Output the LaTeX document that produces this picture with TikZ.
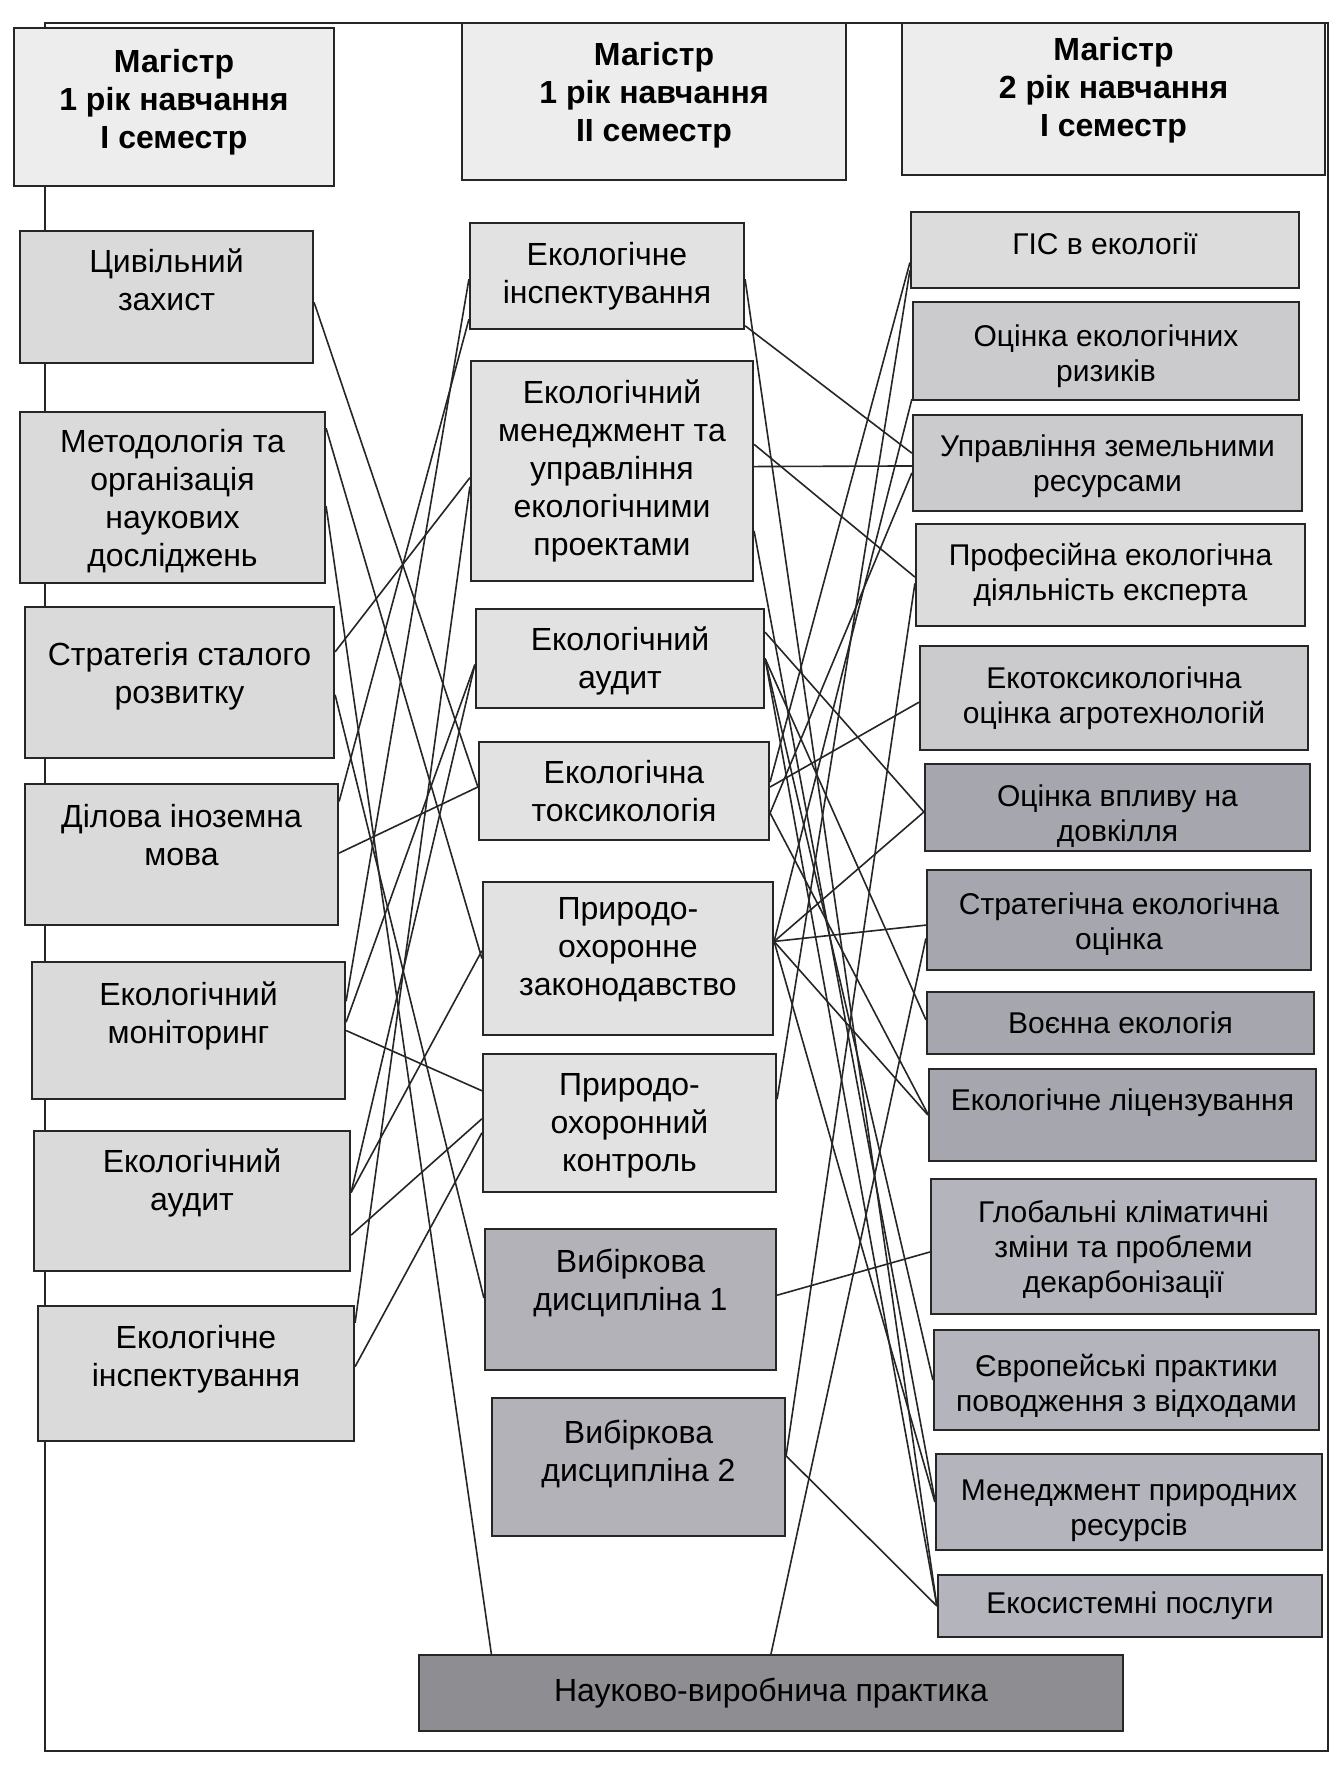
\documentclass[tikz,border=0pt]{standalone}
\usepackage{fontspec}
\setmainfont{Liberation Sans}
\usetikzlibrary{calc}
\pgfdeclarelayer{back}
\pgfdeclarelayer{bg}
\pgfsetlayers{back,bg,main}
\tikzset{
  box/.style={draw=black!85, line width=1.1pt, inner sep=0pt},
  txt/.style={inner sep=0pt, align=center, font=\fontsize{16}{19}\selectfont},
  rtxt/.style={txt, font=\fontsize{15}{17.5}\selectfont},
  htxt/.style={txt, font=\fontsize{16}{19}\selectfont\bfseries},
  conn/.style={line width=0.8pt, black!85},
  frame/.style={line width=1.1pt, black!85}
}
\definecolor{cL}{HTML}{DADADA}
\definecolor{cM}{HTML}{E2E2E2}
\definecolor{cMd}{HTML}{B2B2B8}
\definecolor{cH}{HTML}{EDEDED}
\definecolor{cRa}{HTML}{DCDCDC}
\definecolor{cRb}{HTML}{CBCBCD}
\definecolor{cRc}{HTML}{A6A6AE}
\definecolor{cRd}{HTML}{B4B4BC}
\definecolor{cP}{HTML}{8E8E92}
% #1 text style, #2 name, #3-#6 x1 y1 x2 y2, #7 fill, #8 text shift, #9 text
\newcommand\bx[9]{\node[box,fill=#7,minimum width={(#5-#3)*0.5pt},minimum height={(#6-#4)*0.5pt}] (#2) at ({(#3+#5)/2},{(#4+#6)/2}) {};
  \node[#1] (#2t) at ($(#2.center)+(0,#8)$) {#9};}
\newcommand\cn[4]{\draw[conn] ($(#1.north east)!#2!(#1.south east)$) -- ($(#3.north west)!#4!(#3.south west)$);}
\newcommand\cpw[3]{\draw[conn] ($(P.north west)!#1!(P.north east)$) -- ($(#2.north west)!#3!(#2.south west)$);}
\newcommand\cpe[3]{\draw[conn] ($(P.north west)!#1!(P.north east)$) -- ($(#2.north east)!#3!(#2.south east)$);}
\begin{document}
\begin{tikzpicture}[x=0.5pt,y=-0.5pt]
\useasboundingbox (0,0) rectangle (1335,1768);
\begin{pgfonlayer}{back}
\fill[white] (0,0) rectangle (1335,1768);
\draw[frame] (45,23) rectangle (1328,1751);
\end{pgfonlayer}
% headers
\bx{htxt}{H1}{14}{28}{334}{186}{cH}{-5}{Магістр\\1 рік навчання\\І семестр}
\bx{htxt}{H2}{462}{23}{846}{180}{cH}{-6}{Магістр\\1 рік навчання\\ІІ семестр}
\bx{htxt}{H3}{902}{23}{1325}{175}{cH}{-9}{Магістр\\2 рік навчання\\І семестр}
% left column
\bx{txt}{L1}{20}{231}{313}{363}{cL}{-17}{Цивільний\\захист}
\bx{txt}{L2}{20}{412}{325}{583}{cL}{4}{Методологія та\\організація\\наукових\\досліджень}
\bx{txt}{L3}{25}{607}{334}{758}{cL}{-6}{Стратегія сталого\\розвитку}
\bx{txt}{L4}{25}{784}{338}{925}{cL}{-19}{Ділова іноземна\\мова}
\bx{txt}{L5}{32}{962}{345}{1099}{cL}{-15}{Екологічний\\моніторинг}
\bx{txt}{L6}{34}{1131}{350}{1271}{cL}{-18}{Екологічний\\аудит}
\bx{txt}{L7}{38}{1306}{354}{1441}{cL}{-14}{Екологічне\\інспектування}
% middle column
\bx{txt}{M1}{470}{223}{744}{329}{cM}{0}{Екологічне\\інспектування}
\bx{txt}{M2}{471}{361}{753}{581}{cM}{0}{Екологічний\\менеджмент та\\управління\\екологічними\\проектами}
\bx{txt}{M3}{476}{609}{764}{708}{cM}{2}{Екологічний\\аудит}
\bx{txt}{M4}{479}{742}{769}{840}{cM}{0}{Екологічна\\токсикологія}
\bx{txt}{M5}{483}{882}{773}{1035}{cM}{-9}{Природо-\\охоронне\\законодавство}
\bx{txt}{M6}{483}{1054}{776}{1192}{cM}{3}{Природо-\\охоронний\\контроль}
\bx{txt}{M7}{485}{1229}{776}{1370}{cMd}{-17}{Вибіркова\\дисципліна 1}
\bx{txt}{M8}{492}{1398}{785}{1536}{cMd}{-13}{Вибіркова\\дисципліна 2}
% right column
\bx{rtxt}{R1}{911}{212}{1299}{288}{cRa}{-6}{ГІС в екології}
\bx{rtxt}{R2}{913}{302}{1299}{400}{cRb}{5}{Оцінка екологічних\\ризиків}
\bx{rtxt}{R3}{913}{415}{1302}{511}{cRb}{3}{Управління земельними\\ресурсами}
\bx{rtxt}{R4}{916}{524}{1305}{626}{cRa}{0}{Професійна екологічна\\діяльність експерта}
\bx{rtxt}{R5}{920}{646}{1308}{750}{cRb}{0}{Екотоксикологічна\\оцінка агротехнологій}
\bx{rtxt}{R6}{925}{764}{1310}{851}{cRc}{9}{Оцінка впливу на\\довкілля}
\bx{rtxt}{R7}{927}{870}{1311}{970}{cRc}{4}{Стратегічна екологічна\\оцінка}
\bx{rtxt}{R8}{927}{992}{1314}{1054}{cRc}{0}{Воєнна екологія}
\bx{rtxt}{R9}{929}{1069}{1316}{1161}{cRc}{-12}{Екологічне ліцензування}
\bx{rtxt}{R10}{931}{1179}{1316}{1314}{cRd}{3}{Глобальні кліматичні\\зміни та проблеми\\декарбонізації}
\bx{rtxt}{R11}{934}{1330}{1319}{1430}{cRd}{6}{Європейські практики\\поводження з відходами}
\bx{rtxt}{R12}{936}{1454}{1322}{1550}{cRd}{9}{Менеджмент природних\\ресурсів}
\bx{rtxt}{R13}{938}{1575}{1322}{1637}{cRd}{0}{Екосистемні послуги}
% bottom
\bx{txt}{P}{419}{1655}{1123}{1731}{cP}{0}{Науково-виробнича практика}
\begin{pgfonlayer}{bg}
% left gap
\cn{L1}{0.54}{M4}{0.46}
\cn{L2}{0.10}{M5}{0.50}
\cn{L3}{0.30}{M2}{0.53}
\cn{L3}{0.58}{M7}{0.49}
\cn{L4}{0.13}{M1}{0.90}
\cn{L4}{0.49}{M4}{0.46}
\cn{L5}{0.29}{M1}{0.53}
\cn{L5}{0.44}{M3}{0.56}
\cn{L5}{0.50}{M6}{0.27}
\cn{L6}{0.44}{M3}{0.56}
\cn{L6}{0.44}{M5}{0.45}
\cn{L6}{0.74}{M6}{0.47}
\cn{L7}{0.13}{M2}{0.57}
\cn{L7}{0.45}{M6}{0.57}
\cpe{0.104}{L2}{0.55}
% right gap
\cn{M1}{0.96}{R3}{0.40}
\cn{M1}{0.53}{R13}{0.50}
\cn{M2}{0.48}{R3}{0.53}
\cn{M2}{0.38}{R4}{0.52}
\cn{M2}{0.77}{R12}{0.48}
\cn{M3}{0.24}{R6}{0.55}
\cn{M3}{0.50}{R8}{0.45}
\cn{M3}{0.50}{R11}{0.50}
\cn{M3}{0.50}{R13}{0.50}
\cn{M4}{0.41}{R1}{0.66}
\cn{M4}{0.72}{R3}{0.60}
\cn{M4}{0.46}{R5}{0.54}
\cn{M4}{0.72}{R9}{0.49}
\cn{M5}{0.39}{R2}{0.98}
\cn{M5}{0.39}{R6}{0.55}
\cn{M5}{0.39}{R7}{0.55}
\cn{M5}{0.39}{R9}{0.50}
\cn{M5}{0.39}{R12}{0.50}
\cn{M6}{0.33}{R1}{0.76}
\cn{M7}{0.47}{R10}{0.54}
\cn{M8}{0.42}{R4}{0.58}
\cn{M8}{0.42}{R13}{0.50}
\cpw{0.50}{R7}{0.68}
\end{pgfonlayer}
\end{tikzpicture}
\end{document}
